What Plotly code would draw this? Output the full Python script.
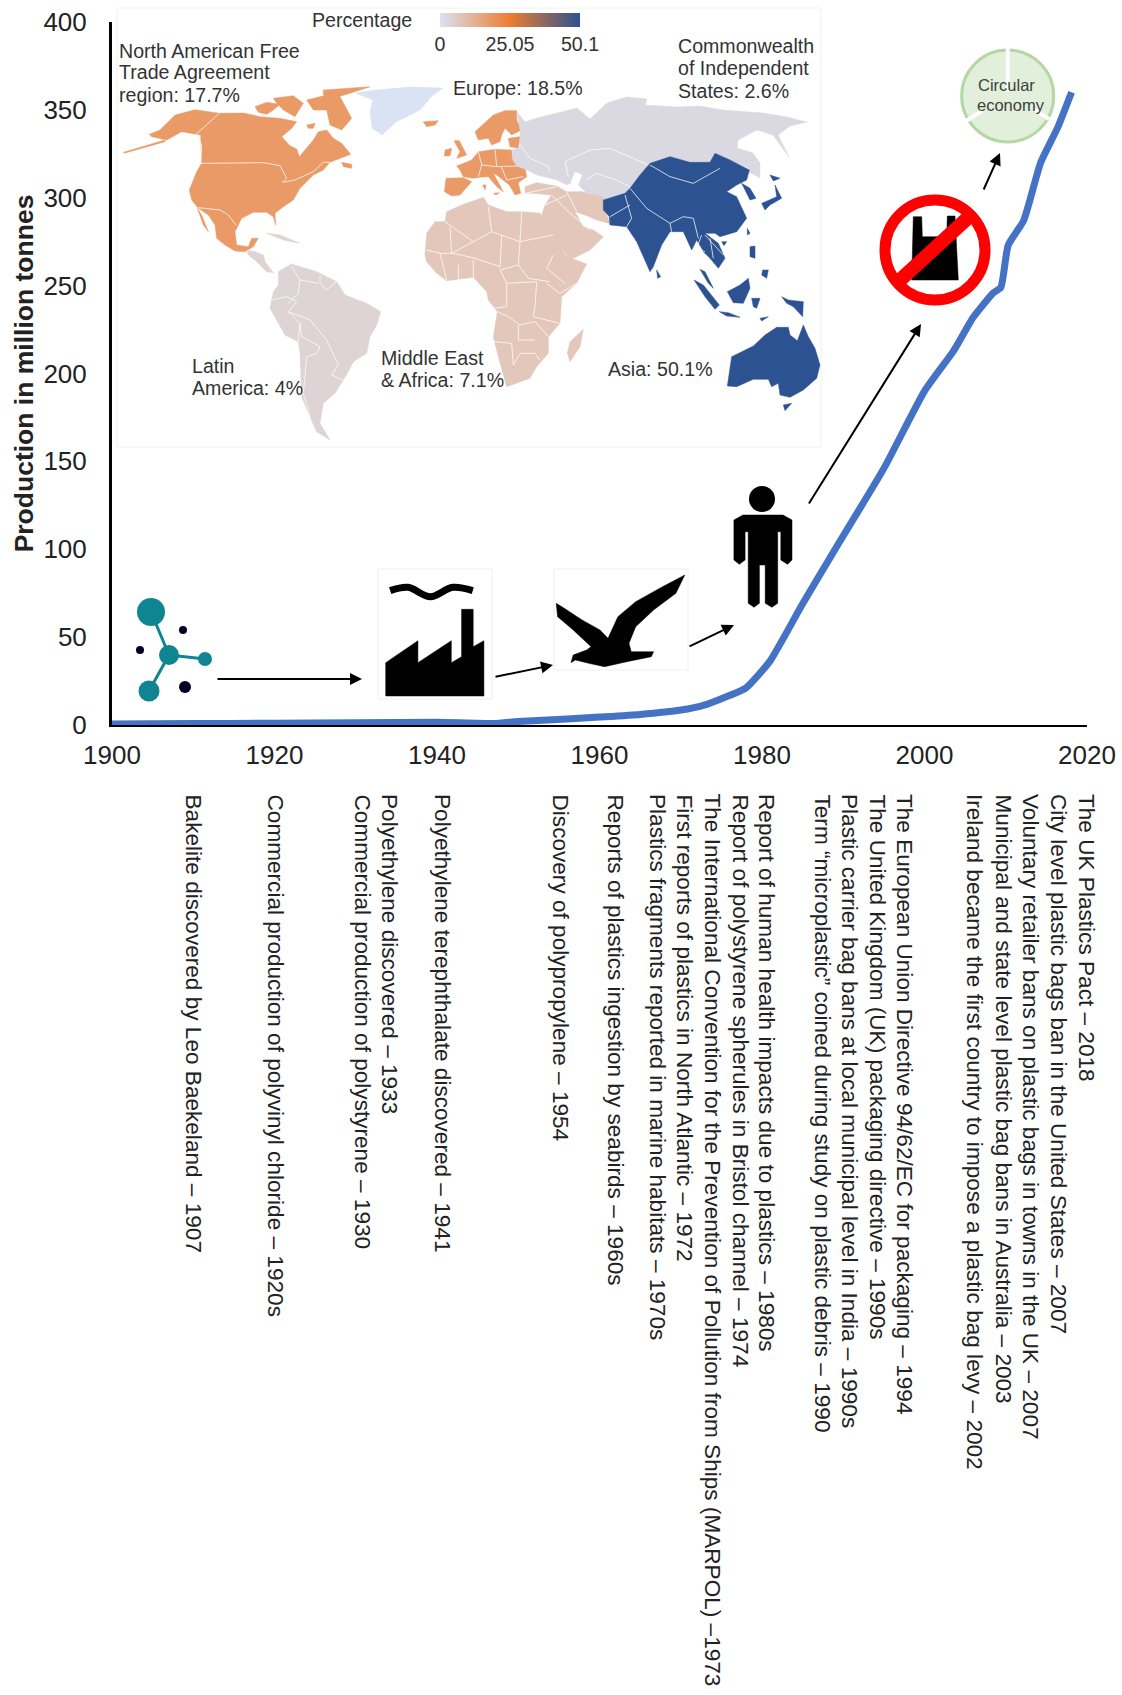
import plotly.graph_objects as go

W, H = 1122, 1695

# ---------- main series ----------
years = [1900,1910,1920,1930,1940,1947,1950,1956,1960,1965,1970,1973,1975,1978,1981,1985,1989,1995,2000,2003.6,2006,2008.5,2009.4,2010.3,2012.2,2014.3,2016.4,2018.1]
production = [0.5,0.8,1,1.3,1.6,0.8,2,3.4,4.5,6,8.5,11.5,15,21,36.5,69,100,146,190,213,232,246,249,273,287,320,340,360]
x_ticks = [1900,1920,1940,1960,1980,2000,2020]
y_ticks = [0,50,100,150,200,250,300,350,400]

# ---------- timeline ----------
timeline_labels = [
 "Bakelite discovered by Leo Baekeland – 1907",
 "Commercial production of polyvinyl chloride – 1920s",
 "Commercial production of polystyrene – 1930",
 "Polyethylene discovered – 1933",
 "Polyethylene terephthalate discovered – 1941",
 "Discovery of polypropylene – 1954",
 "Reports of plastics ingestion by seabirds – 1960s",
 "Plastics fragments reported in marine habitats – 1970s",
 "First reports of plastics in North Atlantic – 1972",
 "The International Convention for the Prevention of Pollution from Ships (MARPOL) –1973",
 "Report of polystyrene spherules in Bristol channel – 1974",
 "Report of human health impacts due to plastics – 1980s",
 "Term “microplastic” coined during study on plastic debris – 1990",
 "Plastic carrier bag bans at local municipal level in India – 1990s",
 "The United Kingdom (UK) packaging directive – 1990s",
 "The European Union Directive 94/62/EC for packaging – 1994",
 "Ireland became the first country to impose a plastic bag levy – 2002",
 "Municipal and state level plastic bag bans in Australia – 2003",
 "Voluntary retailer bans on plastic bags in towns in the UK – 2007",
 "City level plastic bags ban in the United States – 2007",
 "The UK Plastics Pact – 2018",
]
timeline_px = [193.5,275.5,362,390,443,560,615,658,684,712,740,767,822.5,850,877,905,975,1003,1031,1059,1087]

# ---------- map ----------
region_names = ["North American Free Trade Agreement region","Europe","Commonwealth of Independent States","Latin America","Middle East & Africa","Asia"]
region_shares = [17.7,18.5,2.6,4,7.1,50.1]
color_nafta, color_eu, color_cis, color_lat, color_mea, color_asia, color_gl = "#e99a66","#e99a66","#dad9e1","#ded3d5","#e2c7ba","#2c5292","#d9e3f3"

map_labels = [
 ("North American Free",117,51),("Trade Agreement",117,72),("region: 17.7%",117,95),
 ("Europe: 18.5%",451,88),
 ("Commonwealth",676,46),("of Independent",676,68),("States: 2.6%",676,91),
 ("Latin",190,366),("America: 4%",190,388),
 ("Middle East",379,358),("& Africa: 7.1%",379,380),
 ("Asia: 50.1%",606,369),
 ("Percentage",310,20),
]

def crop(ox, oy, polys):
    return [[(ox+x/3, oy+y/3) for x, y in p] for p in polys]

greenland = [[(355,93),(375,90),(410,87),(443,88),(432,96),(420,110),(408,116),(396,122),(382,135),(372,128),(370,112),(373,100)]]
nafta = crop(110,75,[
 [(118,178),(150,165),(175,140),(195,120),(255,104),(328,115),(400,114),(450,125),(510,130),(560,140),(545,160),(515,185),(540,212),(560,222),(568,245),(585,225),(610,195),(625,170),(650,165),(670,190),(695,205),(722,238),(690,250),(660,262),(640,285),(610,300),(570,340),(550,375),(520,395),(495,415),(497,450),(490,425),(470,412),(430,412),(395,430),(375,470),(380,510),(415,515),(425,490),(445,490),(430,515),(405,530),(375,528),(345,510),(320,490),(315,450),(295,420),(265,400),(245,375),(238,345),(260,290),(275,265),(272,180),(258,178),(215,170),(170,195),(125,185)],
 [(695,262),(725,268),(725,280),(700,275)],
 [(262,400),(275,420),(295,470),(280,450)],
 [(40,232),(165,195),(165,200),(45,234)],
 [(435,95),(470,82),(510,88),(490,105),(470,118),(445,112)],
 [(490,70),(550,62),(580,85),(555,125),(520,105),(500,85)],
 [(590,75),(650,60),(690,65),(725,130),(695,165),(660,150),(650,105),(610,105)],
 [(590,150),(615,145),(610,160),(595,160)],
 [(640,45),(780,35),(720,55),(670,70),(640,60)],
])
europe = crop(410,80,[
 [(40,125),(85,122),(75,135),(50,140)],
 [(195,155),(230,125),(250,105),(285,92),(320,92),(320,120),(335,150),(305,165),(285,145),(275,165),(270,185),(245,195),(235,175),(205,180)],
 [(295,175),(330,170),(325,205),(300,200)],
 [(132,182),(148,182),(170,225),(140,235),(150,215)],
 [(105,210),(125,205),(120,228),(103,228)],
 [(140,258),(185,240),(205,215),(255,208),(305,210),(308,240),(320,258),(345,265),(350,290),(325,308),(332,340),(315,345),(298,315),(260,285),(250,280),(280,335),(262,322),(235,290),(210,292),(190,295),(160,290),(150,270)],
 [(108,295),(160,293),(185,305),(150,345),(125,348),(103,335)],
 [(218,315),(228,315),(225,330)],
 [(250,340),(268,338),(258,345)],
])
cis = [[(517,112),(525,122),(537,118),(577,108),(590,119),(607,103),(623,98),(627,97),(647,99),(645,105),(677,107),(700,106),(723,110),(763,113),(787,117),(807,122),(790,126),(778,135),(789,157),(773,135),(757,130),(738,140),(737,148),(753,153),(760,163),(760,178),(749,172),(748,168),(730,160),(715,153),(710,163),(690,162),(670,157),(650,163),(640,175),(630,188),(625,193),(603,200),(590,193),(580,192),(573,182),(567,185),(557,180),(537,175),(527,170),(517,166),(513,160),(512,150),(520,147),(520,130)]]
caspian = [[(575,172),(582,175),(578,185),(585,192),(577,190),(571,182)]]
mea = crop(420,190,[
 [(15,195),(20,130),(45,95),(75,95),(80,65),(125,45),(190,22),(205,45),(260,65),(310,65),(360,70),(400,130),(440,200),(500,222),(470,280),(425,320),(420,400),(385,440),(385,490),(350,530),(330,565),(260,590),(235,500),(220,440),(232,365),(205,330),(200,305),(160,262),(80,272),(50,250),(20,215)],
 [(490,418),(480,470),(450,515),(442,490),(450,455)],
]) + crop(410,80,[
 [(345,320),(380,308),(440,318),(470,335),(510,335),(545,342),(582,352),(580,385),(603,432),(560,420),(525,405),(495,395),(520,440),(550,450),(580,470),(540,510),(480,540),(460,510),(430,470),(395,405),(405,375),(425,345),(370,340),(345,340)],
])
latin = crop(220,240,[
 [(80,30),(105,35),(130,45),(135,65),(160,98),(140,95),(110,65),(85,45)],
 [(175,95),(215,72),(290,95),(350,125),(375,165),(440,190),(482,215),(470,255),(450,290),(440,340),(400,365),(385,395),(345,460),(310,490),(300,550),(330,600),(290,575),(265,520),(245,470),(240,340),(235,305),(195,285),(150,205),(160,155),(175,135)],
]) + crop(110,75,[
 [(470,475),(510,480),(570,505),(520,495)],
])
asia = crop(590,85,[
 [(40,345),(105,325),(120,310),(150,270),(180,235),(240,215),(300,232),(360,232),(375,205),(420,225),(478,255),(470,285),(440,300),(410,320),(440,335),(470,400),(440,440),(390,455),(375,445),(345,445),(385,475),(405,520),(385,550),(360,520),(340,500),(335,490),(320,465),(305,495),(280,440),(240,440),(215,480),(190,545),(180,560),(140,470),(110,425),(60,420),(58,395),(40,375)],
 [(455,295),(480,310),(498,340),(480,345),(465,315)],
 [(515,355),(560,335),(555,300),(575,340),(540,360),(525,375)],
 [(540,270),(570,280),(550,288)],
 [(472,430),(480,445),(472,450)],
 [(395,470),(410,470),(402,482)],
 [(200,555),(212,575),(203,580)],
]) + crop(640,240,[
 [(162,120),(190,135),(238,195),(225,208),(195,170)],
 [(180,88),(195,95),(220,145),(205,130)],
 [(238,215),(265,218),(300,232),(260,228)],
 [(262,155),(300,135),(325,115),(330,145),(310,190),(280,188)],
 [(335,175),(360,175),(350,205),(340,200)],
 [(425,170),(445,180),(490,185),(488,230),(460,200),(440,190)],
 [(360,235),(385,230),(365,243)],
 [(330,20),(345,18),(345,55),(330,50)],
 [(368,90),(385,90),(380,115),(365,105)],
 [(262,438),(275,350),(340,318),(375,285),(410,262),(445,262),(450,285),(472,302),(490,255),(505,290),(525,325),(540,375),(530,415),(490,450),(450,472),(420,465),(415,430),(395,440),(385,418),(340,418),(290,440)],
 [(430,495),(455,490),(435,512)],
])
borders = crop(110,75,[
 [(328,115),(258,178),(275,210),(272,262)],
 [(272,265),(460,263),(510,272),(530,310),(518,322),(555,315),(610,290),(640,262),(660,262)],
 [(265,398),(330,405),(355,420),(378,450)],
]) + crop(220,240,[
 [(215,80),(240,120),(235,160),(205,190)],
 [(155,180),(200,170),(230,185),(205,215),(240,250),(235,305)],
 [(205,215),(270,240),(320,300),(345,350),(355,375),(335,405),(370,420)],
 [(240,250),(245,290),(300,320),(290,340),(260,350),(250,460),(270,530)],
 [(300,105),(300,130),(320,150),(350,125)],
 [(240,120),(295,130)],
]) + crop(420,190,[
 [(75,95),(160,155),(215,125),(205,50)],
 [(90,110),(95,190),(160,155)],
 [(215,125),(300,155),(305,65)],
 [(300,155),(400,135)],
 [(245,135),(240,230)],
 [(165,205),(240,230)],
 [(20,180),(60,190),(95,190),(125,195),(165,205)],
 [(300,155),(295,225),(325,265),(390,275)],
 [(295,225),(240,240),(260,280),(350,275),(345,350),(340,380),(420,400)],
 [(380,280),(420,310),(470,280)],
 [(400,195),(380,235),(435,280)],
 [(260,280),(260,350),(220,355)],
 [(232,365),(265,380),(300,405),(345,395),(385,440)],
 [(220,455),(275,460),(280,525),(300,490),(345,490),(360,510)],
 [(295,405),(295,450),(345,450)],
 [(60,190),(80,270)],
 [(115,225),(115,270)],
 [(160,210),(160,262)],
]) + crop(410,80,[
 [(345,340),(440,320)],
 [(425,345),(480,400),(540,450)],
 [(405,375),(470,345)],
 [(470,335),(500,395)],
 [(205,215),(215,255),(260,260),(320,258)],
 [(255,208),(260,260)],
 [(215,255),(205,290)],
 [(275,262),(290,300),(340,290)],
 [(330,195),(360,235),(415,260),(420,275)],
 [(465,245),(540,210),(600,205),(680,240),(715,255)],
 [(465,245),(475,290)],
 [(530,300),(560,280),(620,300),(660,320)],
]) + crop(590,85,[
 [(180,240),(240,275),(310,295),(390,250)],
 [(120,310),(170,370),(240,415),(280,395),(310,400),(325,460)],
 [(105,330),(125,400),(110,425)],
 [(60,395),(120,360)],
 [(240,415),(245,440)],
 [(335,450),(320,490),(345,500)],
 [(345,450),(400,510)],
 [(360,460),(370,520)],
])

# ---------- pictogram geometry (reference pixel space) ----------
def zoom2(p): return [(100+x/2.24, 470+y/3) for x, y in p]
def zoom3(p): return [(740+x/3, 30+y/3) for x, y in p]
def path(p): return "M " + " L ".join(f"{x:.1f},{y:.1f}" for x, y in p) + " Z"

factory = zoom2([(640,678),(640,578),(712,512),(712,578),(787,512),(787,578),(810,560),(810,418),(836,418),(836,530),(860,512),(860,678)])
smoke = zoom2([(650,362),(690,352),(740,380),(790,352),(835,362)])
bird = zoom2([(1022,400),(1040,415),(1080,450),(1120,480),(1138,505),(1160,440),(1200,395),(1260,350),(1310,315),(1290,370),(1240,420),(1200,470),(1185,520),(1190,545),(1240,545),(1235,560),(1180,575),(1130,590),(1095,580),(1065,570),(1055,578),(1060,555),(1090,540),(1100,530),(1060,480),(1025,440)])
person = zoom2([(1420,150),(1440,135),(1530,135),(1550,150),(1550,270),(1540,283),(1525,270),(1525,185),(1518,185),(1518,400),(1505,412),(1490,400),(1490,285),(1477,285),(1477,400),(1465,412),(1452,400),(1452,185),(1445,185),(1445,270),(1432,283),(1420,270)])
bag = zoom3([(520,560),(545,560),(547,620),(620,620),(622,558),(645,558),(655,750),(515,750)])

arrows = [((216,679),(362,679)),((494,677),(553,665)),((688,647),(734,625)),((808,505),(921,324)),((983,191),(1000,153))]

fig = go.Figure()

# main line
fig.add_trace(go.Scatter(x=years, y=production, mode="lines", line=dict(color="#4472c4", width=7, shape="spline", smoothing=0.5), hoverinfo="skip", xaxis="x", yaxis="y"))

# map polygons
for polys, col in [(greenland,color_gl),(nafta,color_nafta),(europe,color_eu),(cis,color_cis),(caspian,"white"),(mea,color_mea),(latin,color_lat),(asia,color_asia)]:
    xs, ys = [], []
    for poly_ in polys:
        xs += [p[0] for p in poly_] + [poly_[0][0], None]
        ys += [p[1] for p in poly_] + [poly_[0][1], None]
    fig.add_trace(go.Scatter(x=xs, y=ys, mode="lines", fill="toself", fillcolor=col, line=dict(color=col, width=0.5), hoverinfo="skip", xaxis="x2", yaxis="y2"))
bx, by = [], []
for b in borders:
    bx += [p[0] for p in b] + [None]
    by += [p[1] for p in b] + [None]
fig.add_trace(go.Scatter(x=bx, y=by, mode="lines", line=dict(color="rgba(255,255,255,0.75)", width=1), hoverinfo="skip", xaxis="x2", yaxis="y2"))

# colour scale legend, tied to the regional shares
fig.add_trace(go.Scatter(x=[100]*6, y=[100]*6, mode="markers", text=region_names, hoverinfo="skip", xaxis="x2", yaxis="y2",
    marker=dict(size=1, opacity=0, color=region_shares, coloraxis="coloraxis")))

# smoke wave
fig.add_trace(go.Scatter(x=[p[0] for p in smoke], y=[p[1] for p in smoke], mode="lines", line=dict(color="black", width=7, shape="spline"), hoverinfo="skip", xaxis="x2", yaxis="y2"))

shapes = []
def rect(x0,y0,x1,y1,**k): shapes.append(dict(type="rect",xref="x2",yref="y2",x0=x0,y0=y0,x1=x1,y1=y1,**k))
def circ(cx,cy,rx,ry=None,**k):
    ry = ry or rx
    shapes.append(dict(type="circle",xref="x2",yref="y2",x0=cx-rx,x1=cx+rx,y0=cy-ry,y1=cy+ry,**k))
def seg(a,b,color,width,layer="above"): shapes.append(dict(type="line",xref="x2",yref="y2",x0=a[0],y0=a[1],x1=b[0],y1=b[1],line=dict(color=color,width=width),layer=layer))
def poly(p,color,layer="above"): shapes.append(dict(type="path",xref="x2",yref="y2",path=path(p),fillcolor=color,line=dict(color=color,width=0.5),layer=layer))

# inset frame
rect(117,8,821,447,line=dict(color="#f0f0f0",width=1),fillcolor="rgba(0,0,0,0)",layer="below")

# molecule
teal = "#0e8590"
for end in [(151,612),(205,659),(149,691)]:
    seg((169,655),end,teal,3)
for c,r in [((151,612),14),((169,655),10),((205,659),7),((149,691),10.5)]:
    circ(c[0],c[1],r,fillcolor=teal,line=dict(width=0),layer="above")
for c,r in [((183,630),4),((140,650),4),((185,687),6)]:
    circ(c[0],c[1],r,fillcolor="#000022",line=dict(width=0),layer="above")

# factory, bird, person
rect(378,569,492,699,line=dict(color="#eeeeee",width=1),fillcolor="white",layer="below")
poly(factory,"black")
rect(554,569,688,670,line=dict(color="#eeeeee",width=1),fillcolor="white",layer="below")
poly(bird,"black")
circ(762,499,13,fillcolor="black",line=dict(width=0),layer="above")
poly(person,"black")

# no-bag sign
poly(bag,"black")
circ(935,250,50,fillcolor="rgba(0,0,0,0)",line=dict(color="#ff0000",width=11),layer="above")
seg((899,281),(971,215),"#ff0000",14)

# circular economy
circ(1007.7,96,46,fillcolor="#e2efda",line=dict(color="#b5d6a5",width=3),layer="above")
seg((1007.7,46),(1007.7,92),"white",4)
seg((966,121),(982,111),"white",4)
seg((1049,119),(1035,110),"white",4)

fig.update_layout(shapes=shapes)

ann = []
for t,px in zip(timeline_labels,timeline_px):
    ann.append(dict(text=t,xref="paper",yref="paper",x=px/W,y=1-792/H,xanchor="center",yanchor="top",textangle=90,showarrow=False,font=dict(size=22.6,color="#222222")))
for t,px,py in map_labels:
    ann.append(dict(text=t,xref="x2",yref="y2",x=px,y=py,xanchor="left",yanchor="middle",showarrow=False,font=dict(size=19.6,color="#333333")))
ann.append(dict(text="Circular",xref="x2",yref="y2",x=1006,y=85,showarrow=False,font=dict(size=16.5,color="#404040")))
ann.append(dict(text="economy",xref="x2",yref="y2",x=1011,y=105,showarrow=False,font=dict(size=16.5,color="#404040")))
for a,b in arrows:
    ann.append(dict(text="",xref="x2",yref="y2",axref="x2",ayref="y2",x=b[0],y=b[1],ax=a[0],ay=a[1],showarrow=True,arrowhead=2,arrowsize=1.2,arrowwidth=2,arrowcolor="black"))

fig.update_layout(
    width=W, height=H, margin=dict(l=0,r=0,t=0,b=0,autoexpand=False), showlegend=False,
    paper_bgcolor="white", plot_bgcolor="rgba(0,0,0,0)",
    font=dict(family="Liberation Sans, Arial, sans-serif"),
    annotations=ann,
    xaxis=dict(domain=[112/W,1087/W], range=[1900,2020], tickvals=x_ticks, showgrid=False, zeroline=False,
               showline=True, linecolor="black", linewidth=2, ticks="", tickfont=dict(size=26,color="#222222"),
               ticklabelstandoff=6, anchor="y"),
    yaxis=dict(domain=[1-725/H,1-22/H], range=[0,400], tickvals=y_ticks, showgrid=False, zeroline=False,
               showline=True, linecolor="black", linewidth=3, ticks="", tickfont=dict(size=26,color="#222222"),
               ticklabelstandoff=17, anchor="x",
               title=dict(text="<b>Production in million tonnes</b>", font=dict(size=26.5,color="#222222"), standoff=3)),
    xaxis2=dict(domain=[0,1], range=[0,W], visible=False, anchor="y2"),
    yaxis2=dict(domain=[0,1], range=[H,0], visible=False, anchor="x2"),
    coloraxis=dict(cmin=0, cmax=50.1, colorscale=[[0,"#d9e3f3"],[0.5,"#ed7d31"],[1,"#2c5292"]],
        colorbar=dict(orientation="h", x=510/W, xanchor="center", y=1-13/H, yanchor="top",
                      len=140, lenmode="pixels", thickness=14, outlinewidth=0, ticks="",
                      tickvals=[0,25.05,50.1], ticktext=["0","25.05","50.1"],
                      tickfont=dict(size=19.6,color="#333333"), xpad=0, ypad=0)),
)

fig.write_html("out.html", config={"displayModeBar": False}, post_script="document.body.style.margin='0';")
